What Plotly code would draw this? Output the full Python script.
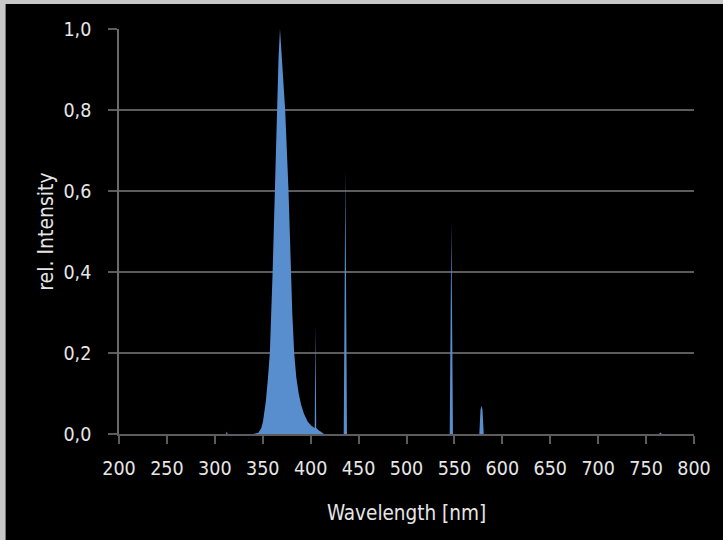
import plotly.graph_objects as go

# Spectrum data (wavelength nm, relative intensity)
wavelength = [200, 310, 311.6, 312.5, 313.4, 320, 340, 345.5, 348.5, 350.2, 351.6, 353.2, 355.5,
              357.4, 360.3, 362.7, 364.4, 366.5, 368.0, 370.5, 373.4, 376.9, 379.2, 380.8, 382.8,
              385.0, 387.5, 390.0, 393, 397, 401, 404.2, 405.0, 405.8, 408, 411, 414,
              434.5, 436.2, 437.9, 440, 545.1, 546.8, 548.5, 576.0, 577.2, 578.3, 579.3, 580.6,
              600, 763.5, 765, 766.5, 800]
intensity = [0, 0, 0, 0.006, 0, 0, 0, 0.003, 0.015, 0.03, 0.05, 0.08, 0.14,
             0.2, 0.4, 0.6, 0.8, 0.93, 1.0, 0.9, 0.8, 0.6, 0.4, 0.3, 0.2,
             0.14, 0.1, 0.072, 0.05, 0.03, 0.02, 0.015, 0.27, 0.015, 0.01, 0.004, 0,
             0, 0.65, 0, 0, 0, 0.524, 0, 0, 0.06, 0.07, 0.06, 0,
             0, 0, 0.004, 0, 0]

x_ticks = list(range(200, 801, 50))
y_ticks = [0.0, 0.2, 0.4, 0.6, 0.8, 1.0]
y_tick_labels = ["0,0", "0,2", "0,4", "0,6", "0,8", "1,0"]

FONT = "DejaVu Sans Condensed, Liberation Sans Narrow, Roboto, sans-serif"
TEXT = "#e6e6e6"
GRID = "#5c5c5c"

fig = go.Figure()
fig.add_trace(go.Scatter(
    x=wavelength, y=intensity, mode="lines", fill="tozeroy",
    fillcolor="rgb(88,141,206)", line=dict(width=0, color="rgb(88,141,206)"),
    hoverinfo="skip", showlegend=False,
))

fig.update_layout(
    width=723, height=540,
    margin=dict(l=119, r=26, t=29, b=106),
    paper_bgcolor="black", plot_bgcolor="black",
    font=dict(family=FONT, color=TEXT, size=20),
    xaxis=dict(
        range=[200, 800], tickvals=x_ticks, ticktext=[str(v) for v in x_ticks],
        showgrid=False, zeroline=False,
        showline=True, linecolor=GRID, linewidth=2,
        ticks="outside", ticklen=8, tickwidth=2, tickcolor=GRID,
        ticklabelstandoff=8,
        tickfont=dict(family=FONT, size=19.5, color=TEXT),
        title=dict(text="Wavelength [nm]", font=dict(family=FONT, size=20.5, color=TEXT), standoff=26),
    ),
    yaxis=dict(
        range=[0, 1], tickvals=y_ticks, ticktext=y_tick_labels,
        showgrid=True, gridcolor=GRID, gridwidth=2,
        zeroline=False,
        showline=True, linecolor="#6a6a6a", linewidth=1.5,
        ticks="outside", ticklen=9, tickwidth=2, tickcolor=GRID,
        ticklabelstandoff=13,
        tickfont=dict(family=FONT, size=19.5, color=TEXT),
        title=dict(text="rel. Intensity", font=dict(family=FONT, size=21, color=TEXT), standoff=4),
    ),
    shapes=[
        dict(type="rect", xref="paper", yref="paper", x0=-0.3, x1=1.2, y0=1.0617, y1=1.2,
             fillcolor="#c8c8c8", line=dict(width=0), layer="above"),
        dict(type="rect", xref="paper", yref="paper", x0=-0.3, x1=-0.1972, y0=-0.4, y1=1.2,
             fillcolor="#c8c8c8", line=dict(width=0), layer="above"),
    ],
)

fig.write_html("out.html")
